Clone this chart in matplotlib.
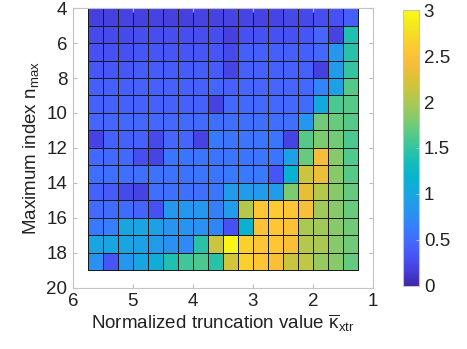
import matplotlib
matplotlib.use('Agg')
import matplotlib.pyplot as plt
import numpy as np
from matplotlib.colors import LinearSegmentedColormap

# truncation value (cell edges) and max index (cell edges)
kappa_edges = [5.75, 5.5, 5.25, 5.0, 4.75, 4.5, 4.25, 4.0, 3.75, 3.5,
               3.25, 3.0, 2.75, 2.5, 2.25, 2.0, 1.75, 1.5, 1.25]
nmax_edges = [4, 5, 6, 7, 8, 9, 10, 11, 12, 13, 14, 15, 16, 17, 18, 19]

# one row per n_max (4..18), columns from kappa 5.75 down to 1.25
values = [
    [0.18, 0.18, 0.20, 0.18, 0.20, 0.18, 0.18, 0.20, 0.20, 0.22, 0.22, 0.20, 0.22, 0.24, 0.24, 0.27, 0.30, 0.40],
    [0.25, 0.25, 0.25, 0.27, 0.27, 0.27, 0.27, 0.27, 0.28, 0.18, 0.30, 0.30, 0.30, 0.30, 0.33, 0.45, 0.20, 1.40],
    [0.30, 0.30, 0.30, 0.33, 0.33, 0.33, 0.33, 0.33, 0.33, 0.25, 0.40, 0.40, 0.40, 0.40, 0.40, 0.46, 0.85, 1.45],
    [0.35, 0.35, 0.35, 0.38, 0.38, 0.38, 0.38, 0.38, 0.38, 0.22, 0.42, 0.42, 0.42, 0.42, 0.42, 0.18, 0.90, 1.50],
    [0.40, 0.40, 0.40, 0.42, 0.42, 0.42, 0.42, 0.42, 0.45, 0.42, 0.45, 0.45, 0.45, 0.45, 0.48, 0.68, 0.95, 1.65],
    [0.42, 0.42, 0.42, 0.42, 0.42, 0.42, 0.42, 0.42, 0.20, 0.47, 0.47, 0.47, 0.47, 0.47, 0.50, 1.05, 1.60, 1.65],
    [0.45, 0.45, 0.47, 0.47, 0.47, 0.47, 0.50, 0.50, 0.52, 0.52, 0.52, 0.52, 0.52, 0.52, 0.85, 1.75, 1.72, 1.65],
    [0.20, 0.42, 0.42, 0.42, 0.25, 0.45, 0.45, 0.20, 0.60, 0.57, 0.57, 0.57, 0.57, 0.20, 1.65, 1.80, 1.75, 1.60],
    [0.48, 0.48, 0.48, 0.27, 0.22, 0.57, 0.57, 0.57, 0.57, 0.57, 0.57, 0.57, 0.57, 0.95, 1.72, 2.40, 1.85, 1.62],
    [0.52, 0.52, 0.52, 0.52, 0.55, 0.55, 0.55, 0.57, 0.57, 0.60, 0.60, 0.60, 0.33, 1.15, 2.15, 2.35, 1.85, 1.65],
    [0.43, 0.38, 0.25, 0.20, 0.53, 0.53, 0.53, 0.53, 0.58, 0.90, 0.90, 0.90, 0.90, 1.80, 2.30, 2.05, 1.85, 1.70],
    [0.50, 0.50, 0.50, 0.43, 0.30, 0.85, 0.85, 0.85, 0.65, 0.90, 2.05, 2.55, 2.60, 2.55, 2.45, 1.95, 1.85, 1.72],
    [0.60, 0.65, 1.00, 1.00, 0.95, 0.82, 0.82, 0.78, 0.70, 0.30, 1.15, 2.50, 2.55, 2.50, 2.00, 1.95, 1.85, 1.75],
    [1.00, 1.00, 1.00, 0.95, 0.90, 0.80, 0.72, 1.45, 2.15, 2.95, 2.65, 2.55, 2.55, 2.45, 2.05, 2.00, 1.85, 1.75],
    [0.78, 0.33, 0.85, 1.00, 1.10, 1.40, 1.55, 1.60, 1.45, 2.20, 2.65, 2.55, 2.45, 2.15, 2.10, 1.90, 1.85, 1.70],
]

x_ticks = [6, 5, 4, 3, 2, 1]
y_ticks = [4, 6, 8, 10, 12, 14, 16, 18, 20]
cbar_ticks = [0, 0.5, 1, 1.5, 2, 2.5, 3]

# approximate MATLAB parula
parula_pts = [
    (0.2422, 0.1504, 0.6603), (0.2725, 0.2374, 0.8508), (0.2805, 0.3190, 0.9568),
    (0.2684, 0.3975, 0.9916), (0.2205, 0.4786, 0.9908), (0.1740, 0.5555, 0.9559),
    (0.1310, 0.6113, 0.9216), (0.0780, 0.6640, 0.8660), (0.0280, 0.7100, 0.8000),
    (0.0870, 0.7420, 0.7220), (0.2000, 0.7700, 0.6300), (0.3400, 0.7900, 0.5300),
    (0.4900, 0.7950, 0.4400), (0.6300, 0.7900, 0.3500), (0.7500, 0.7800, 0.2700),
    (0.8600, 0.7600, 0.2100), (0.9600, 0.7400, 0.2300), (0.9950, 0.7700, 0.2100),
    (0.9700, 0.8400, 0.1600), (0.9600, 0.9100, 0.1100), (0.9769, 0.9839, 0.0805),
]
parula = LinearSegmentedColormap.from_list('parula', parula_pts)

plt.rcParams['font.family'] = ['Liberation Sans', 'DejaVu Sans']
plt.rcParams['mathtext.fontset'] = 'custom'
plt.rcParams['mathtext.rm'] = 'Liberation Sans'
plt.rcParams['mathtext.it'] = 'Liberation Sans'

fig = plt.figure(figsize=(4.67, 3.49), dpi=100)
ax = fig.add_axes([0.156, 0.175, 0.643, 0.802])
cax = fig.add_axes([0.863, 0.181, 0.034, 0.790])

mesh = ax.pcolormesh(kappa_edges, nmax_edges, np.array(values), cmap=parula,
                     vmin=0, vmax=3, edgecolors='#1a1a1a', linewidth=0.6)

ax.set_xlim(6, 1)
ax.set_ylim(20, 4)
ax.set_xticks(x_ticks)
ax.set_yticks(y_ticks)
ax.tick_params(direction='in', length=3, color='#bbbbbb', labelsize=13.5,
               labelcolor='#222222', top=True, right=True, pad=4)
for s in ax.spines.values():
    s.set_color('#c4c4c4')
    s.set_linewidth(0.8)

ax.set_xlabel(r'Normalized truncation value $\overline{\kappa}_{\rm xtr}$',
              fontsize=13.5, color='#222222', labelpad=1)
ax.set_ylabel(r'Maximum index n$_{\rm max}$', fontsize=13.5, color='#222222', labelpad=4)

cb = fig.colorbar(mesh, cax=cax, ticks=cbar_ticks)
cb.ax.set_yticklabels(['0', '0.5', '1', '1.5', '2', '2.5', '3'])
cb.ax.tick_params(direction='in', length=2, color='#bbbbbb', labelsize=13.5,
                  labelcolor='#222222')
cb.outline.set_edgecolor('#c4c4c4')
cb.outline.set_linewidth(0.8)

fig.savefig('out.png', dpi=100)
